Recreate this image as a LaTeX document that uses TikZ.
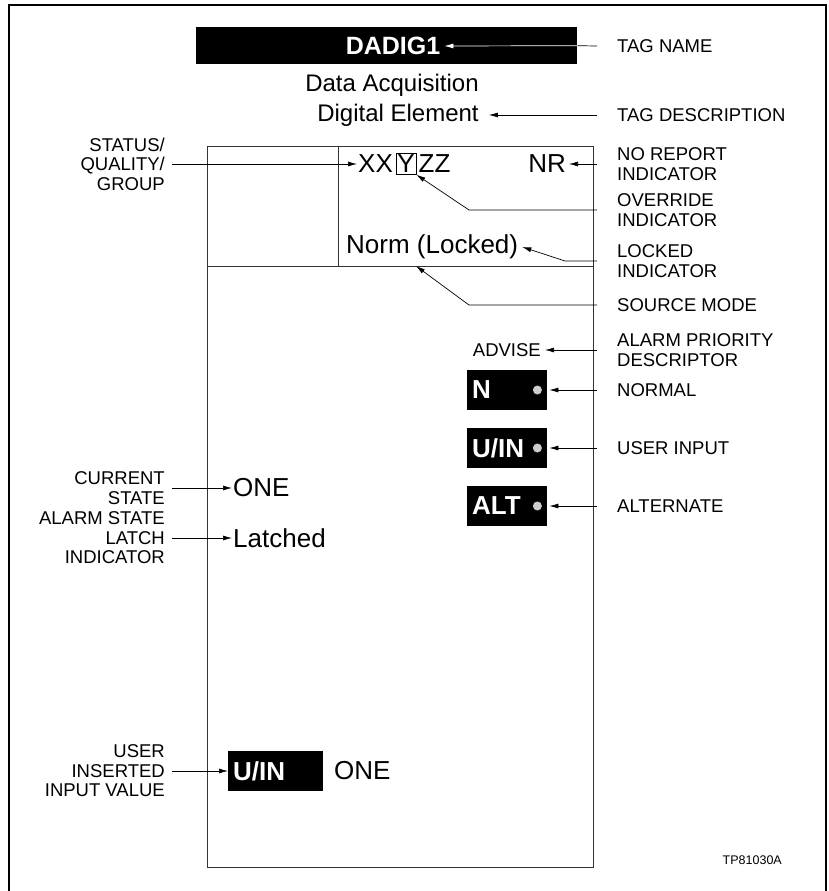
\documentclass[tikz,border=0pt]{standalone}
\usepackage{fontspec}
\setmainfont{Liberation Sans}
\usepackage{tikz}
\usetikzlibrary{arrows.meta,positioning,calc}
\definecolor{dotgray}{RGB}{205,205,205}
\tikzset{
  lbl/.style={font=\fontsize{18.5}{19.5}\selectfont,inner sep=0pt},
  big/.style={font=\fontsize{24}{28}\selectfont,inner sep=0pt},
  val/.style={font=\fontsize{26}{30}\selectfont,inner sep=1pt},
  badge/.style={fill=black,text=white,font=\fontsize{26}{30}\selectfont\bfseries,
    anchor=west,minimum height=40pt,inner xsep=5pt,align=left},
  dotmark/.style={circle,fill=dotgray,inner sep=0pt,minimum size=9pt},
  pointer/.style={-{Latex[length=9pt,width=5pt]},line width=0.7pt},
  frame/.style={line width=1.6pt},
  panel/.style={line width=1pt,black!80}
}
\begin{document}
\begin{tikzpicture}[x=1pt,y=-1pt]
\useasboundingbox (0,0) rectangle (829,891);
% outer frame, open at the bottom
\draw[frame] (9,891) |- (826,5) -- (826,891);

% tag name bar
\node[fill=black,anchor=north west,minimum width=381pt,minimum height=37pt,inner sep=0pt] (bar) at (196,27) {};
\node[big,text=white,font=\fontsize{25}{28}\selectfont\bfseries] (dadig) at (393,46) {DADIG1};
\node[lbl,anchor=west] (tagname) at (617,46) {TAG NAME};
\draw[line width=0.7pt] ([xshift=-20pt]tagname.west) -- (bar.east);
\draw[pointer,white] (bar.east) -- ([xshift=4pt]dadig.east);

% description
\node[big] (dtop) at (392,85) {Data Acquisition};
\node[big] (dbot) at (398,115) {Digital Element};
\node[lbl,anchor=west] (tagdesc) at (617,115) {TAG DESCRIPTION};
\draw[pointer] ([xshift=-20pt]tagdesc.west) -- ([xshift=10pt]dbot.east);

% faceplate
\draw[panel] (207,146) rectangle (593,867);
\draw[panel] (338,146) -- (338,266);
\draw[panel] (207,266) -- (593,266);

% status / quality / group
\node[val,anchor=west] (xx) at (357,164) {XX};
\node[val,draw,line width=0.5pt,inner sep=1.5pt,right=1.5pt of xx] (ybox) {Y};
\node[val,right=1pt of ybox] (zz) {ZZ};
\node[lbl,anchor=east,align=right] (sqg) at (165,164) {STATUS/\\QUALITY/\\GROUP};
\draw[pointer] ([xshift=7pt]sqg.east) -- (xx.west);

\node[val,anchor=east] (nr) at (567,164) {NR};
\node[lbl,anchor=west,align=left] (norep) at (617,164) {NO REPORT\\INDICATOR};
\draw[pointer] ([xshift=-20pt]norep.west) -- ([xshift=2pt]nr.east);

\node[lbl,anchor=west,align=left] (ovr) at (617,210) {OVERRIDE\\INDICATOR};
\draw[pointer] ([xshift=-20pt]ovr.west) -- ++(-128,0) -- (ybox.south east);

\node[val,anchor=west] (norm) at (345,247) {Norm (Locked)};
\node[lbl,anchor=west,align=left] (lock) at (617,261) {LOCKED\\INDICATOR};
\draw[pointer] ([xshift=-20pt]lock.west) -- ++(-32,0) -- ([xshift=3pt]norm.east);

\coordinate (srctip) at (416,266);
\node[lbl,anchor=west] (src) at (617,305) {SOURCE MODE};
\draw[pointer] ([xshift=-20pt]src.west) -- ++(-128,0) -- (srctip);

% alarm priority and source badges
\node[lbl,anchor=east] (advise) at (541,350) {ADVISE};
\node[lbl,anchor=west,align=left] (prio) at (617,350) {ALARM PRIORITY\\DESCRIPTOR};
\draw[pointer] ([xshift=-20pt]prio.west) -- ([xshift=4pt]advise.east);

\node[badge,text width=70pt] (bn) at (467,390) {N};
\node[dotmark] (bndot) at ([xshift=-10pt]bn.east) {};
\node[lbl,anchor=west] (normal) at (617,390) {NORMAL};
\draw[pointer] ([xshift=-20pt]normal.west) -- ([xshift=2pt]bn.east);

\node[badge,text width=70pt] (bu) at (467,448) {U/IN};
\node[dotmark] (budot) at ([xshift=-10pt]bu.east) {};
\node[lbl,anchor=west] (usrin) at (617,448) {USER INPUT};
\draw[pointer] ([xshift=-20pt]usrin.west) -- ([xshift=2pt]bu.east);

\node[badge,text width=70pt] (ba) at (467,506) {ALT};
\node[dotmark] (badot) at ([xshift=-10pt]ba.east) {};
\node[lbl,anchor=west] (altn) at (617,506) {ALTERNATE};
\draw[pointer] ([xshift=-20pt]altn.west) -- ([xshift=2pt]ba.east);

% current and latched state
\node[val,anchor=west] (one) at (232,488) {ONE};
\node[lbl,anchor=east,align=right] (cur) at (165,488) {CURRENT\\STATE};
\draw[pointer] ([xshift=7pt]cur.east) -- (one.west);

\node[val,anchor=west] (latch) at (232,538) {Latched};
\node[lbl,anchor=east,align=right] (alst) at (165,538) {ALARM STATE\\LATCH\\INDICATOR};
\draw[pointer] ([xshift=7pt]alst.east) -- (latch.west);

% user inserted value
\node[badge,text width=85pt] (bui) at (228,771) {U/IN};
\node[val,anchor=west] (uione) at (333,771) {ONE};
\node[lbl,anchor=east,align=right] (uiv) at (165,771) {USER\\INSERTED\\INPUT VALUE};
\draw[pointer] ([xshift=7pt]uiv.east) -- (bui.west);

\node[font=\fontsize{12.5}{14}\selectfont,anchor=east,inner sep=0pt] (tp) at (782,860) {TP81030A};
\end{tikzpicture}
\end{document}
